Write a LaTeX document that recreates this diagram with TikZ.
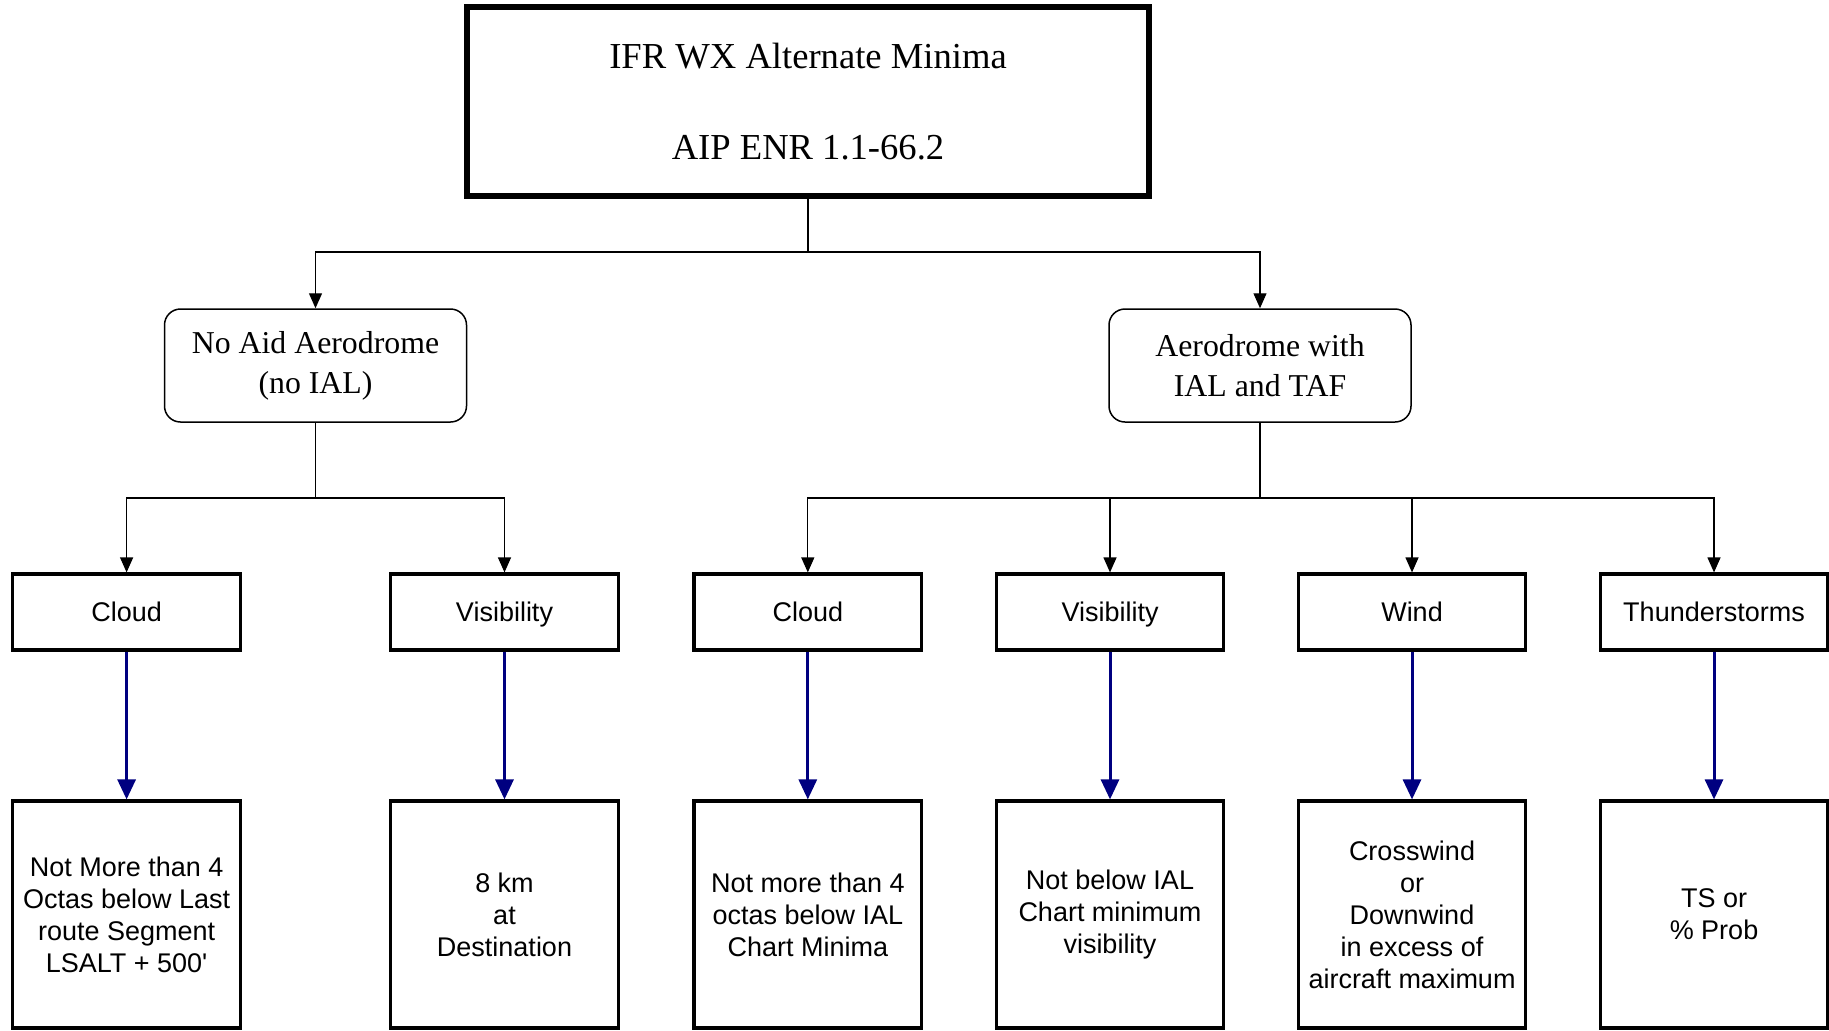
\documentclass[tikz,border=0pt]{standalone}
\usepackage{fontspec}
\setmainfont{Liberation Serif}
\newfontfamily\arial{Liberation Sans}
\usetikzlibrary{arrows.meta}
\definecolor{arrowblue}{RGB}{0,0,128}
\tikzset{
  titlebox/.style={draw,line width=2.8pt,minimum width=341pt,minimum height=94.5pt,
    inner sep=0pt,align=center,font=\fontsize{18.3}{45.5}\selectfont},
  typebox/.style={draw,rounded corners=8pt,line width=0.75pt,minimum width=151pt,
    minimum height=56.5pt,inner sep=0pt,align=center,font=\fontsize{15.9}{20}\selectfont},
  plainbox/.style={draw,line width=1.6pt,minimum width=113.75pt,inner sep=0pt,
    align=center,font=\arial\fontsize{13.5}{16}\selectfont},
  itembox/.style={plainbox,minimum height=38pt,text height=11pt,text depth=1.8pt},
  minbox/.style={plainbox,minimum height=113.5pt},
  link/.style={line width=0.6pt},
  tree/.style={link,-{Triangle[width=6.5pt,length=7.5pt]}},
  down/.style={arrowblue,line width=1.5pt,-{Triangle[width=9pt,length=10pt]}}
}
\begin{document}
\begin{tikzpicture}[x=0.5pt,y=-0.5pt]
\useasboundingbox (0,0) rectangle (1829,1030);
%title
\node[titlebox] (title) at (808,101.5) {IFR WX Alternate Minima\\AIP ENR 1.1-66.2};
%aerodromes
\node[typebox] (noaid) at (315.5,365.5) {No Aid Aerodrome\\(no IAL)};
\node[typebox] (withial) at (1260,365.5) {Aerodrome with\\IAL and TAF};
%items
\node[itembox] (cloudA) at (126.6,612) {Cloud};
\node[itembox] (visA) at (504.5,612) {Visibility};
\node[itembox] (cloudB) at (807.8,612) {Cloud};
\node[itembox] (visB) at (1110,612) {Visibility};
\node[itembox] (wind) at (1412,612) {Wind};
\node[itembox] (ts) at (1714,612) {Thunderstorms};
%minima
\node[minbox] (cloudA-min) at (126.6,914.5) {Not More than 4\\Octas below Last\\route Segment\\LSALT + 500'};
\node[minbox] (visA-min) at (504.5,914.5) {8 km\\at\\Destination};
\node[minbox] (cloudB-min) at (807.8,914.5) {Not more than 4\\octas below IAL\\Chart Minima};
\node[minbox] (visB-min) at (1110,914.5) {Not below IAL\\Chart minimum\\visibility};
\node[minbox] (wind-min) at (1412,914.5) {Crosswind\\or\\Downwind\\in excess of\\aircraft maximum};
\node[minbox] (ts-min) at (1714,914.5) {TS or\\\% Prob};
%tree
\coordinate (rootbus) at (808,252);
\draw[link] (title.south) -- (rootbus);
\draw[tree] (rootbus) -| (noaid.north);
\draw[tree] (rootbus) -| (withial.north);
\coordinate (noaidbus) at (315.5,498);
\draw[link] (noaid.south) -- (noaidbus);
\draw[tree] (noaidbus) -| (cloudA.north);
\draw[tree] (noaidbus) -| (visA.north);
\coordinate (ialbus) at (1260,498);
\draw[link] (withial.south) -- (ialbus);
\foreach \n in {cloudB,visB,wind,ts}
  \draw[tree] (ialbus) -| (\n.north);
%blue arrows
\foreach \n in {cloudA,visA,cloudB,visB,wind,ts}
  \draw[down] (\n.south) -- (\n-min.north);
\end{tikzpicture}
\end{document}
